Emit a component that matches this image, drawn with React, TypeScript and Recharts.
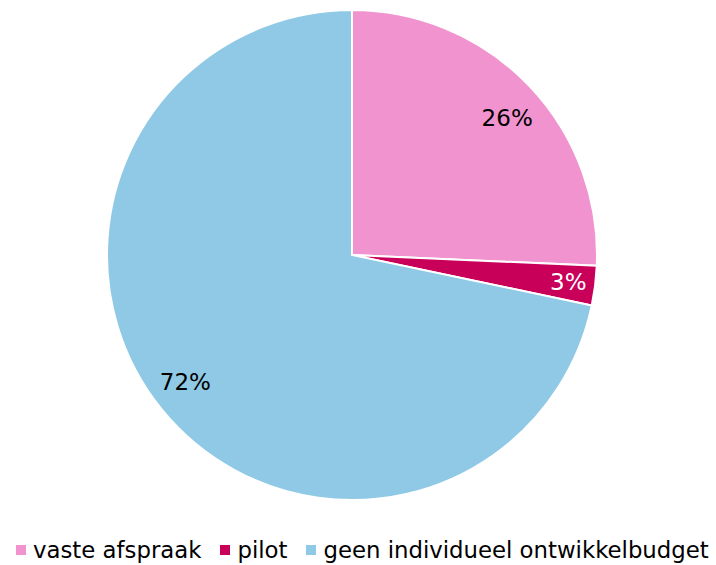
import React from "react";
import { PieChart, Pie, Cell, Legend } from "recharts";

const labels = ["vaste afspraak", "pilot", "geen individueel ontwikkelbudget"];
const values = [25.7, 2.6, 71.7];
const colors = ["#f093cf", "#c9005a", "#8fc9e5"];
const labelColors = ["#000000", "#ffffff", "#000000"];

const data = labels.map((name, i) => ({ name, value: values[i] }));

const RAD = Math.PI / 180;
const FONT = "Verdana, 'DejaVu Sans', sans-serif";
// small nudges so the percentage labels sit where the original puts them
const labelNudge = [
  [2, 10],
  [6, 0],
  [-2, -7],
];

function renderLabel(props: any) {
  const { cx, cy, midAngle, percent, index } = props;
  const r = 212;
  const x = cx + r * Math.cos(-midAngle * RAD) + labelNudge[index][0];
  const y = cy + r * Math.sin(-midAngle * RAD) + labelNudge[index][1];
  return (
    <text
      x={x}
      y={y}
      fill={labelColors[index]}
      textAnchor="middle"
      dominantBaseline="central"
      fontSize={23}
      fontFamily={FONT}
    >
      {Math.round(percent * 100)}%
    </text>
  );
}

function renderLegend() {
  return (
    <div
      style={{
        display: "flex",
        justifyContent: "flex-start",
        paddingLeft: 16,
        fontFamily: FONT,
        fontSize: 22.8,
        color: "#000",
        whiteSpace: "nowrap",
      }}
    >
      {labels.map((l, i) => (
        <span key={l} style={{ display: "flex", alignItems: "center", marginRight: i < 2 ? 19 : 0 }}>
          <span
            style={{ width: 10, height: 10, background: colors[i], display: "inline-block", marginRight: 7 }}
          />
          {l}
        </span>
      ))}
    </div>
  );
}

export default function App() {
  return (
    <div style={{ position: "absolute", left: 0, top: 0 }}>
      <PieChart width={716} height={565} margin={{ top: 0, right: 0, bottom: 0, left: 0 }}>
        <Pie
          data={data}
          dataKey="value"
          cx={352}
          cy={255}
          outerRadius={245}
          startAngle={90}
          endAngle={-270}
          stroke="#ffffff"
          strokeWidth={2}
          label={renderLabel}
          labelLine={false}
          isAnimationActive={false}
        >
          {data.map((d, i) => (
            <Cell key={d.name} fill={colors[i]} />
          ))}
        </Pie>
        <Legend
          verticalAlign="bottom"
          content={renderLegend}
          wrapperStyle={{ bottom: 2, left: 0, width: 716 }}
        />
      </PieChart>
    </div>
  );
}
